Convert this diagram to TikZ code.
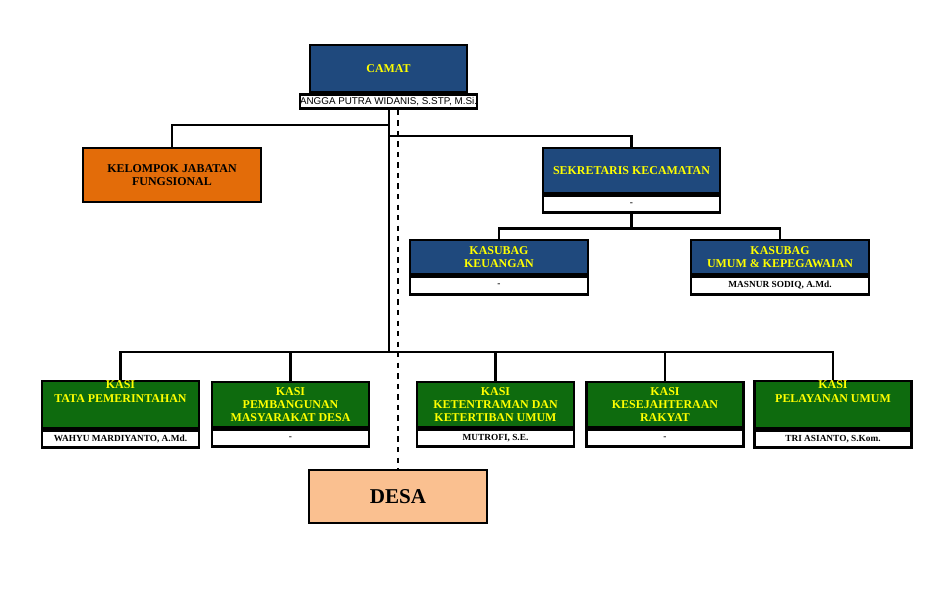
\documentclass[tikz,border=0pt]{standalone}
\usepackage{fontspec}
\setmainfont{Liberation Serif}
\newfontfamily\namefont{Liberation Sans}
\definecolor{camatblue}{HTML}{1F497D}
\definecolor{kasigreen}{HTML}{0E6B0E}
\definecolor{fungorange}{HTML}{E36C09}
\definecolor{desapeach}{HTML}{FAC090}
\definecolor{titleyellow}{HTML}{FFFF00}
\tikzset{
  box/.style={draw=black, line width=1.4pt, inner sep=0pt, align=center,
    font=\bfseries\fontsize{6.8}{7.6}\selectfont},
  head/.style={box, fill=camatblue, text=titleyellow},
  kasi/.style={box, fill=kasigreen, text=titleyellow, minimum width=3.14cm, minimum height=0.9cm},
  strip/.style={box, fill=white, font=\bfseries\fontsize{5.3}{6}\selectfont},
  link/.style={line width=1.4pt},
}
\begin{document}
\begin{tikzpicture}[x=0.02cm, y=-0.02cm]
\useasboundingbox (0,0) rectangle (936,610);

% camat
\node[head, minimum width=3.14cm, minimum height=0.94cm] (camat) at (388.5,68.5) {CAMAT};
\node[strip, minimum width=3.14cm, minimum height=0.28cm, anchor=north,
  font=\namefont\fontsize{5.6}{6}\selectfont] (camatname) at (camat.south) {ANGGA PUTRA WIDANIS, S.STP, M.Si.};

% fungsional
\node[box, fill=fungorange, text=black, minimum width=3.56cm, minimum height=1.08cm] (fung) at (172,175) {KELOMPOK JABATAN\\FUNGSIONAL};

% sekretaris
\node[head, minimum width=3.54cm, minimum height=0.9cm] (sek) at (631.5,170.5) {SEKRETARIS KECAMATAN};
\node[strip, minimum width=3.54cm, minimum height=0.34cm, anchor=north] (sekname) at (sek.south) {-};

% kasubag
\node[head, minimum width=3.56cm, minimum height=0.68cm] (keu) at (499,257) {KASUBAG\\KEUANGAN};
\node[strip, minimum width=3.56cm, minimum height=0.36cm, anchor=north] (keuname) at (keu.south) {-};
\node[head, minimum width=3.56cm, minimum height=0.68cm] (umum) at (780,257) {KASUBAG\\UMUM \& KEPEGAWAIAN};
\node[strip, minimum width=3.56cm, minimum height=0.36cm, anchor=north] (umumname) at (umum.south) {MASNUR SODIQ, A.Md.};

% kasi
\foreach \n/\x/\t/\p in {
  tapem/120.5/{KASI\\TATA PEMERINTAHAN\\[0.25cm]}/{WAHYU MARDIYANTO, A.Md.},
  pmd/290.5/{KASI\\PEMBANGUNAN\\MASYARAKAT DESA}/{-},
  trantib/495.5/{KASI\\KETENTRAMAN DAN\\KETERTIBAN UMUM}/{MUTROFI, S.E.},
  kesra/665/{KASI\\KESEJAHTERAAN\\RAKYAT}/{-},
  pelum/833/{KASI\\PELAYANAN UMUM\\[0.25cm]}/{TRI ASIANTO, S.Kom.}} {
  \node[kasi] (\n) at (\x,404.5) {\t};
  \node[strip, minimum width=3.14cm, minimum height=0.34cm, anchor=north] (\n name) at (\n.south) {\p};
}

% desa
\node[box, fill=desapeach, minimum width=3.56cm, minimum height=1.06cm,
  font=\bfseries\fontsize{12}{14}\selectfont] (desa) at (398,496.5) {DESA};

% connectors
\coordinate (trunk) at (389,352);
\draw[link] (camatname.south -| trunk) -- (trunk);
\draw[link] (389,125) -| (fung.north);
\draw[link] (389,136) -| (sek.north);
\draw[link] (sekname.south) -- ++(0,15) coordinate (sekbus);
\draw[link] (keu.north) |- (sekbus) -| (umum.north);
\draw[link] (tapem.north) |- (trunk) -| (pelum.north);
\foreach \n in {pmd, trantib, kesra}
  \draw[link] (\n.north) -- (\n.north |- trunk);
\draw[dashed, line width=0.6pt] (camatname.south -| desa.north) -- (desa.north);
\end{tikzpicture}
\end{document}
